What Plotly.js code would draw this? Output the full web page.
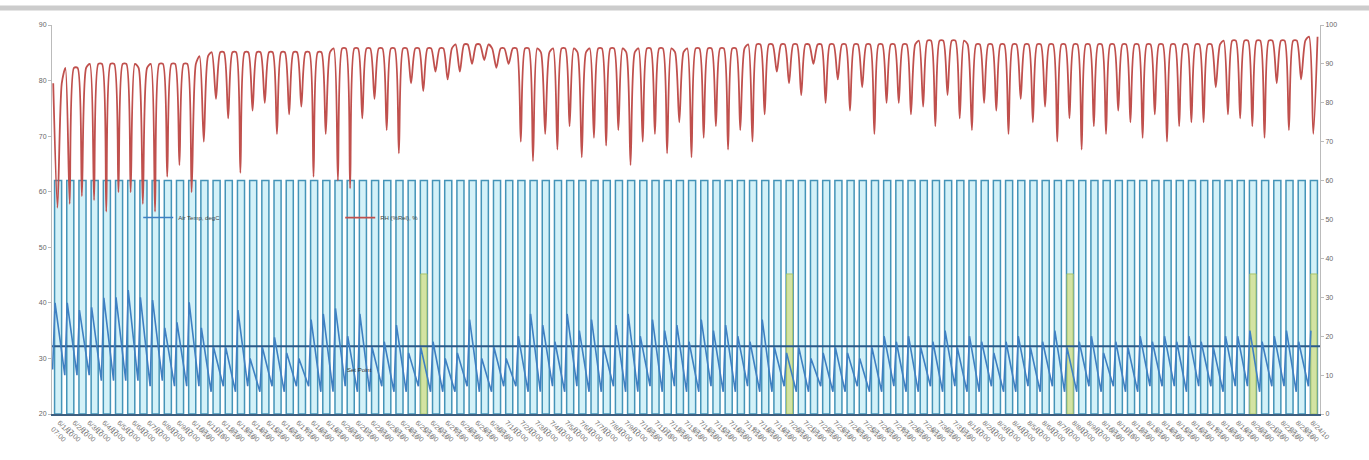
<!DOCTYPE html>
<html>
<head>
<meta charset="utf-8">
<script src="https://cdn.plot.ly/plotly-3.0.1.min.js"></script>
<style>html,body{margin:0;padding:0;background:#fff;}#chart{width:1369px;height:460px;}</style>
</head>
<body>
<div id="chart"></div>
<script>
// ---- Data (one entry per day) ----
const rhMax = [85,89,89,90,90,90,90,89,90,90,90,90,
  92,93,93,93,93,93,93,93,93,
  93,93,94,94,94,94,94,94,94,94,94,94,
  95,95,95,94,94,
  94,94,93,94,94,93,94,94,94,93,94,94,94,93,94,94,94,94,94,95,95,
  95,95,95,95,95,95,95,95,95,95,
  95,95,96,96,96,96,95,95,95,95,95,95,95,95,95,95,95,95,95,95,95,95,
  95,95,95,95,95,96,96,96,96,96,96,96,97];
const rhMin = [53,54,56,55,52,57,57,54,52,61,64,57,
  70,81,76,62,78,80,72,77,79,
  61,72,60,58,76,81,73,67,85,83,88,86,
  88,90,91,89,90,
  70,65,72,68,74,66,71,69,73,64,70,72,67,75,66,71,74,68,73,70,77,
  88,85,82,90,80,86,78,84,72,80,
  80,77,79,74,82,76,73,80,78,72,81,75,79,70,76,68,74,72,78,75,71,77,
  70,74,75,75,84,77,76,74,71,85,73,86,72];
const airHigh = [40,40,38.7,39.2,40.9,41,42.3,41,40.5,35.5,36.5,40.1,
  35.5,32,32,38.7,30,32,33.8,31,30,
  37,38,39,34,38,32,33,36,31,32,33,30,
  31,37,30,32,30,
  34,38,36,33,38,35,37,32,36,38,34,37,35,36,33,37,35,36,34,33,37,
  32,31,32,30,31,32,31,30,32,34,
  33,34,32,33,35,32,34,33,31,33,34,32,33,35,32,33,34,31,33,32,34,33,
  34,33,34,33,32,34,34,35,33,34,35,33,35];
const airLow = [28,27,27,27,26,26,26,26,25,26,25,25,
  25,24,25,24,25,24,25,24,25,
  25,24,24,25,24,24,25,24,24,25,24,24,
  24,25,24,24,25,
  25,24,24,25,24,25,24,24,25,24,24,25,24,25,24,24,25,24,24,25,24,
  24,25,24,24,25,24,24,25,24,24,
  25,24,24,25,24,25,24,24,25,24,24,25,24,25,24,24,25,24,25,24,24,25,
  25,25,24,25,25,24,25,25,24,25,25,24,25];
const lightOn = [60,60,60,60,60,60,60,60,60,60,60,60,60,60,60,60,60,60,60,60,
  60,60,60,60,60,60,60,60,60,60,60,60,60,60,60,60,60,60,60,60,
  60,60,60,60,60,60,60,60,60,60,60,60,60,60,60,60,60,60,60,60,
  60,60,60,60,60,60,60,60,60,60,60,60,60,60,60,60,60,60,60,60,
  60,60,60,60,60,60,60,60,60,60,60,60,60,60,60,60,60,60,60,60,
  60,60,60,60];
const eventDays = [30,60,83,98,103];
const eventVals = [36,36,36,36,36];
const airSetpoint = 32.2;
const tickLabels = [
 "6/1/10<br>07:00","6/2/10<br>07:00","6/3/10<br>07:00","6/4/10<br>07:00","6/5/10<br>07:00","6/6/10<br>07:00","6/7/10<br>07:00","6/8/10<br>07:00","6/9/10<br>07:00","6/10/10<br>07:00",
 "6/11/10<br>07:00","6/12/10<br>07:00","6/13/10<br>07:00","6/14/10<br>07:00","6/15/10<br>07:00","6/16/10<br>07:00","6/17/10<br>07:00","6/18/10<br>07:00","6/19/10<br>07:00","6/20/10<br>07:00",
 "6/21/10<br>07:00","6/22/10<br>07:00","6/23/10<br>07:00","6/24/10<br>07:00","6/25/10<br>07:00","6/26/10<br>07:00","6/27/10<br>07:00","6/28/10<br>07:00","6/29/10<br>07:00","6/30/10<br>07:00",
 "7/1/10<br>07:00","7/2/10<br>07:00","7/3/10<br>07:00","7/4/10<br>07:00","7/5/10<br>07:00","7/6/10<br>07:00","7/7/10<br>07:00","7/8/10<br>07:00","7/9/10<br>07:00","7/10/10<br>07:00",
 "7/11/10<br>07:00","7/12/10<br>07:00","7/13/10<br>07:00","7/14/10<br>07:00","7/15/10<br>07:00","7/16/10<br>07:00","7/17/10<br>07:00","7/18/10<br>07:00","7/19/10<br>07:00","7/20/10<br>07:00",
 "7/21/10<br>07:00","7/22/10<br>07:00","7/23/10<br>07:00","7/24/10<br>07:00","7/25/10<br>07:00","7/26/10<br>07:00","7/27/10<br>07:00","7/28/10<br>07:00","7/29/10<br>07:00","7/30/10<br>07:00",
 "7/31/10<br>07:00","8/1/10<br>07:00","8/2/10<br>07:00","8/3/10<br>07:00","8/4/10<br>07:00","8/5/10<br>07:00","8/6/10<br>07:00","8/7/10<br>07:00","8/8/10<br>07:00","8/9/10<br>07:00",
 "8/10/10<br>07:00","8/11/10<br>07:00","8/12/10<br>07:00","8/13/10<br>07:00","8/14/10<br>07:00","8/15/10<br>07:00","8/16/10<br>07:00","8/17/10<br>07:00","8/18/10<br>07:00","8/19/10<br>07:00",
 "8/20/10<br>07:00","8/21/10<br>07:00","8/22/10<br>07:00","8/23/10<br>07:00","8/24/10<br>07:00"];

// ---- Build traces ----
const N = lightOn.length;
const dayIdx = lightOn.map((v, i) => i);

const rhX = [], rhY = [], airX = [], airY = [];
for (let d = 0; d < N; d++) {
  const s = d - 0.5;
  rhX.push(s + 0.1, s + 0.45, s + 0.8);
  rhY.push(rhMax[d], rhMin[d], rhMax[d]);
  airX.push(s + 0.05, s + 0.25);
  airY.push(airLow[d], airHigh[d]);
}

const tickVals = tickLabels.map((t, i) => -0.5 + (i + 0.5) * N / tickLabels.length);

const traces = [
  {type: 'bar', x: dayIdx, y: lightOn, yaxis: 'y', showlegend: false, hoverinfo: 'skip',
   marker: {color: '#d3f1f8', line: {color: '#4594b8', width: 1.5}}},
  {type: 'bar', x: eventDays, y: eventVals, yaxis: 'y', showlegend: false, width: 0.5, hoverinfo: 'skip',
   marker: {color: '#d3e3a3', line: {color: '#a9c46a', width: 1}}},
  {type: 'scatter', mode: 'lines', x: rhX, y: rhY, yaxis: 'y', name: 'RH (%Rel), %', legendrank: 2,
   line: {color: '#c0504d', width: 1.8, shape: 'spline', smoothing: 0.7}},
  {type: 'scatter', mode: 'lines', x: [dayIdx[0] - 0.5, dayIdx[N - 1] + 0.5], y: [airSetpoint, airSetpoint],
   yaxis: 'y2', showlegend: false, line: {color: '#2c5a88', width: 2}},
  {type: 'scatter', mode: 'lines', x: airX, y: airY, yaxis: 'y2', name: 'Air Temp, degC', legendrank: 1,
   line: {color: '#3f80c2', width: 1.6}}
];

const axFont = {family: 'Liberation Sans, Arial, sans-serif', size: 7, color: '#666'};
const layout = {
  width: 1369, height: 460,
  margin: {l: 52, r: 49, t: 25, b: 46},
  paper_bgcolor: '#fff', plot_bgcolor: '#fff',
  barmode: 'overlay', bargap: 0.42,
  font: {family: 'Liberation Sans, Arial, sans-serif'},
  xaxis: {range: [-0.5, N - 0.5], showgrid: false, zeroline: false, showline: true,
          linecolor: '#3d5f80', linewidth: 2, ticks: '', tickmode: 'array',
          tickvals: tickVals, ticktext: tickLabels, tickangle: 45,
          tickfont: {family: 'Liberation Sans, Arial, sans-serif', size: 7, color: '#777'}, automargin: false},
  yaxis: {range: [0, 100], dtick: 10, side: 'right', showgrid: false, zeroline: false,
          showline: true, linecolor: '#bbb', ticks: 'outside', ticklen: 3, tickcolor: '#bbb',
          tickfont: axFont, automargin: false},
  yaxis2: {range: [20, 90], dtick: 10, side: 'left', overlaying: 'y', showgrid: false, zeroline: false,
           showline: true, linecolor: '#bbb', ticks: 'outside', ticklen: 3, tickcolor: '#bbb',
           tickfont: axFont, automargin: false},
  legend: {orientation: 'h', x: 0.068, y: 0.505, xanchor: 'left', yanchor: 'middle',
           bgcolor: 'rgba(0,0,0,0)', font: {size: 6, color: '#444'},
           entrywidth: 157, entrywidthmode: 'pixels', traceorder: 'normal'},
  annotations: [
    {xref: 'paper', yref: 'paper', x: 0.231, y: 0.1, text: 'Set Point', showarrow: false,
     font: {size: 6, color: '#333'}}
  ],
  shapes: [
    {type: 'line', xref: 'paper', yref: 'paper', x0: -0.045, x1: 1.045, y0: 1.044, y1: 1.044,
     line: {color: '#cccccc', width: 5}}
  ]
};

Plotly.newPlot('chart', traces, layout, {displayModeBar: false, staticPlot: true});
</script>
</body>
</html>
